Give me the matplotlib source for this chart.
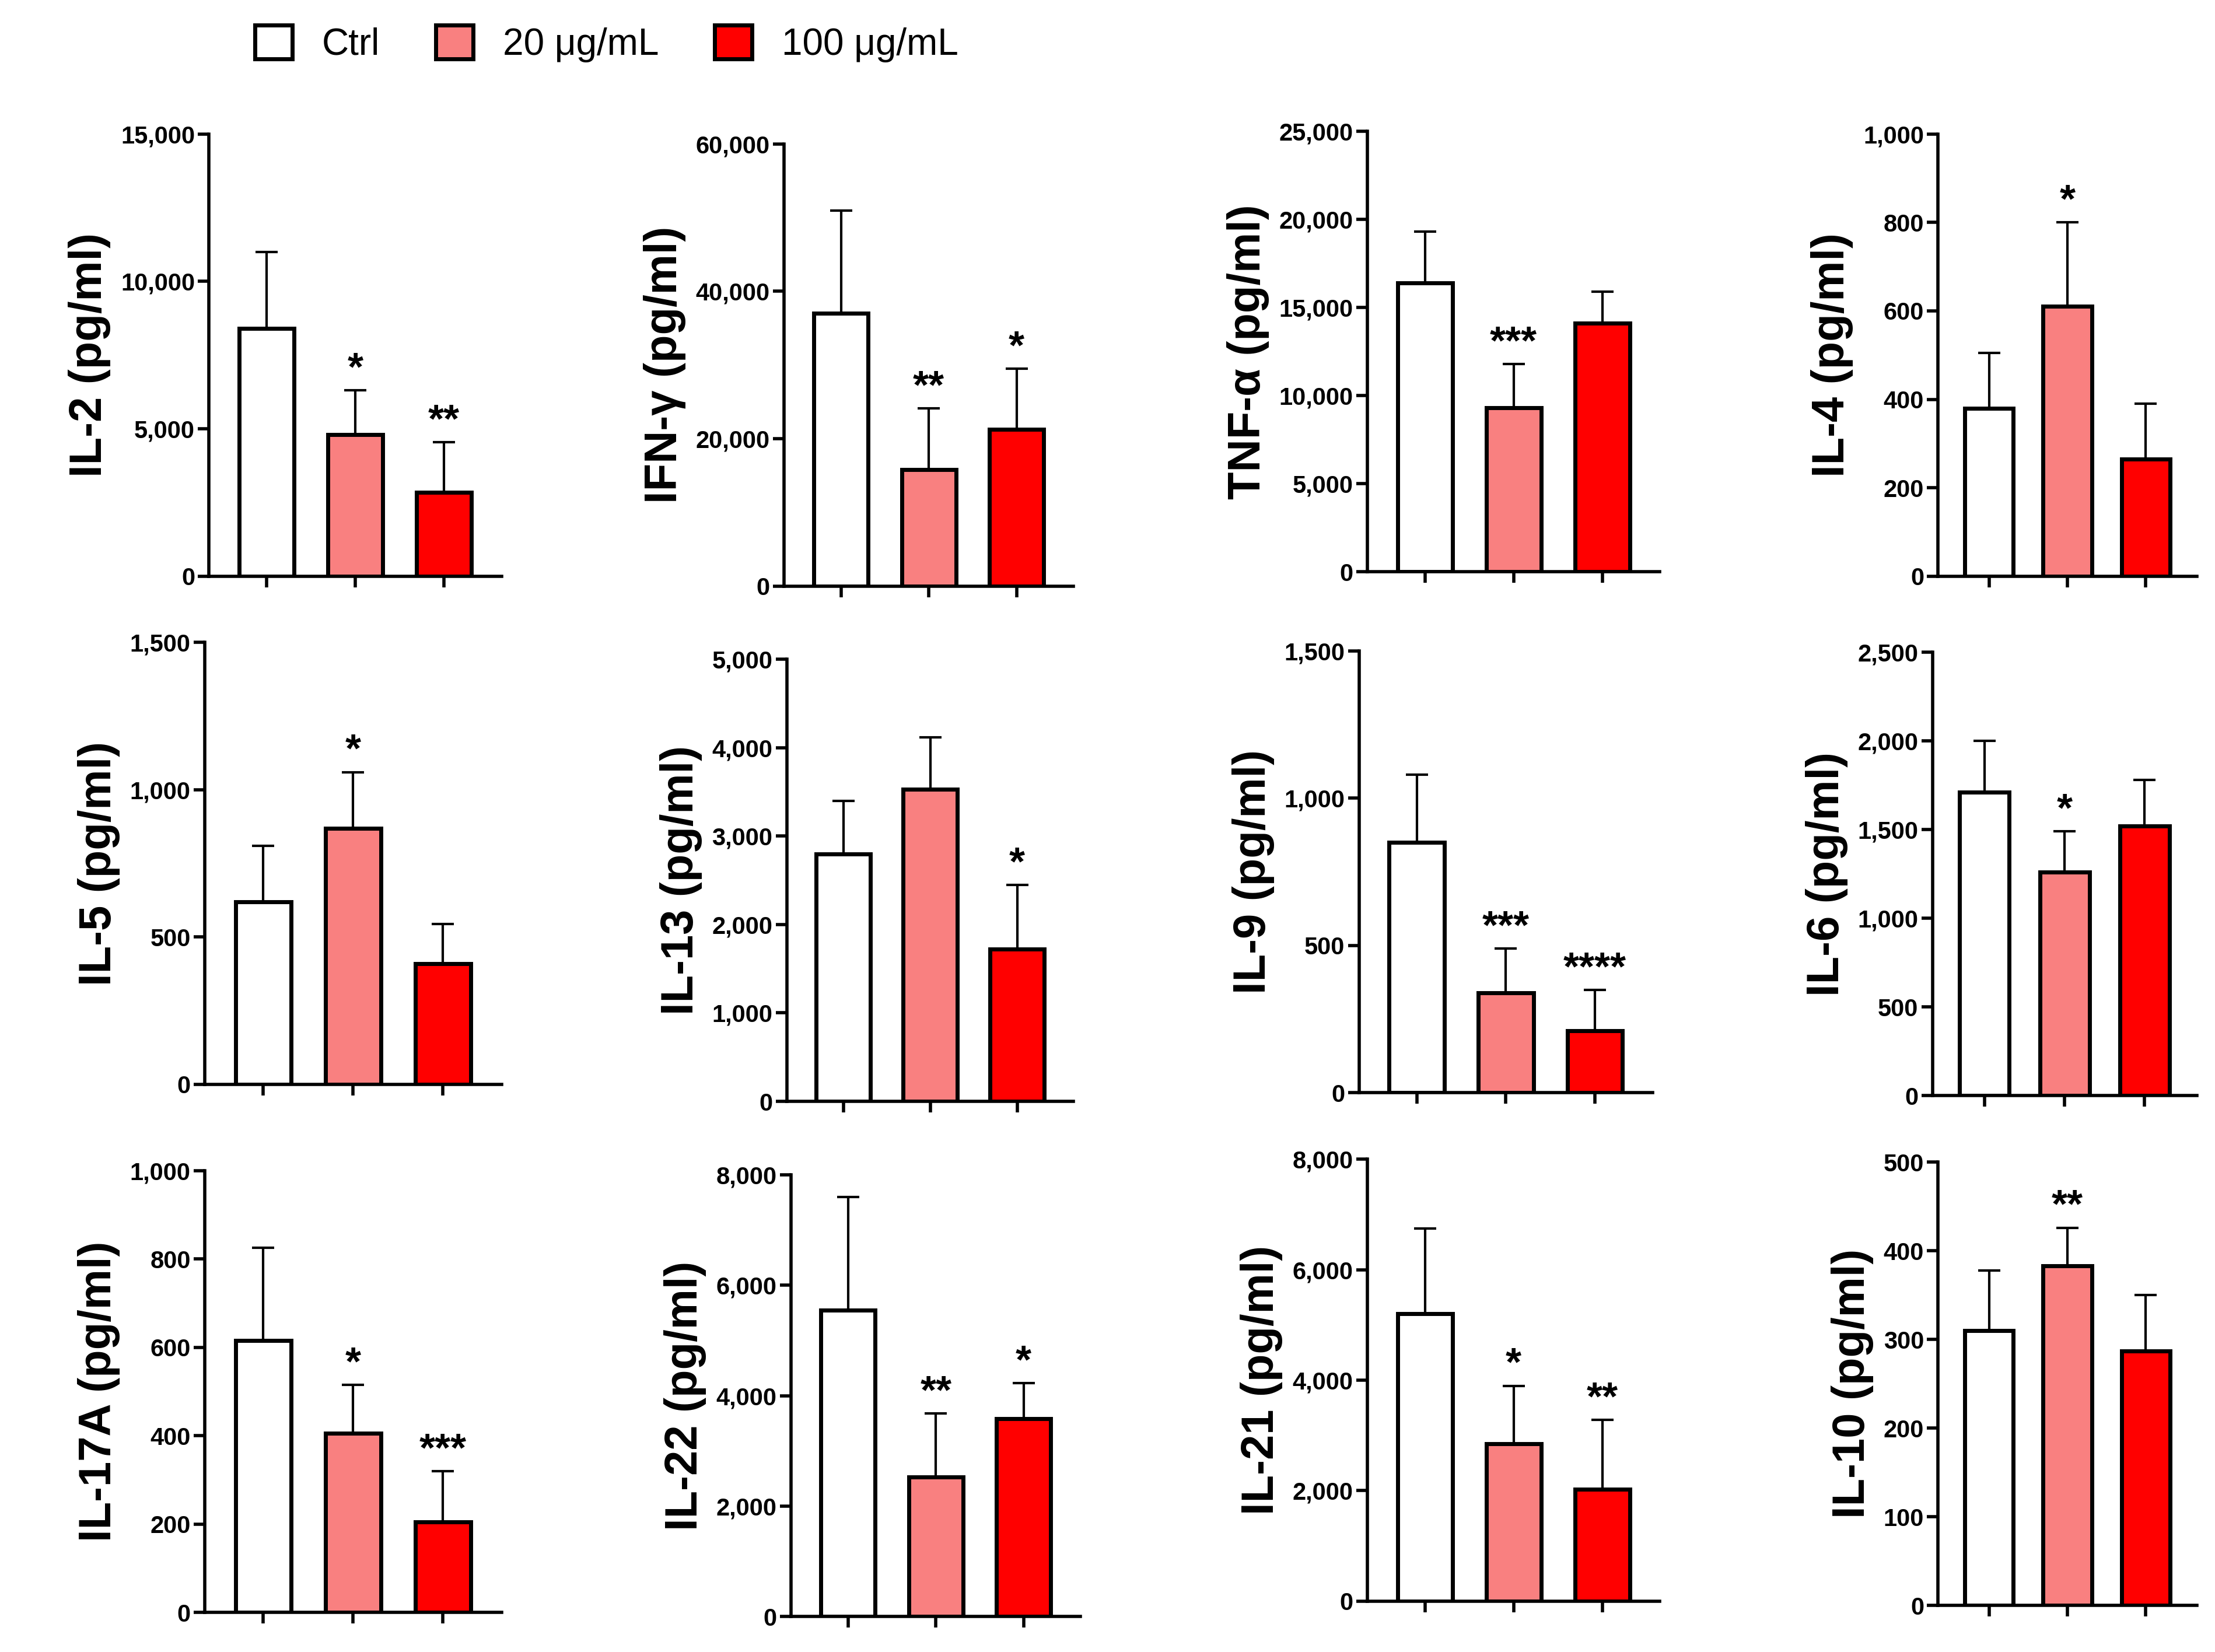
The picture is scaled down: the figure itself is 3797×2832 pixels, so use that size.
import matplotlib
matplotlib.use("Agg")
import matplotlib.pyplot as plt
from matplotlib.patches import Patch
from matplotlib.ticker import FuncFormatter

plt.rcParams["font.family"] = "Liberation Sans"

names = ["IL-2", "IFN-\u03b3", "TNF-\u03b1", "IL-4", "IL-5", "IL-13", "IL-9", "IL-6",
         "IL-17A", "IL-22", "IL-21", "IL-10"]
means = [[8400, 4800, 2850], [37000, 15800, 21300], [16400, 9300, 14100], [380, 610, 265],
         [620, 870, 410], [2800, 3530, 1720], [850, 340, 210], [1710, 1260, 1520],
         [615, 405, 205], [5550, 2530, 3580], [5200, 2850, 2030], [310, 383, 287]]
errs = [[2600, 1500, 1700], [14000, 8300, 8200], [2900, 2500, 1800], [125, 190, 125],
        [190, 190, 135], [600, 590, 730], [230, 150, 140], [290, 230, 260],
        [210, 110, 115], [2050, 1150, 650], [1550, 1050, 1250], [68, 43, 63]]
stars = [["", "*", "**"], ["", "**", "*"], ["", "***", ""], ["", "*", ""],
         ["", "*", ""], ["", "", "*"], ["", "***", "****"], ["", "*", ""],
         ["", "*", "***"], ["", "**", "*"], ["", "*", "**"], ["", "**", ""]]
ymax = [15000, 60000, 25000, 1000, 1500, 5000, 1500, 2500, 1000, 8000, 8000, 500]
ystep = [5000, 20000, 5000, 200, 500, 1000, 500, 500, 200, 2000, 2000, 100]
groups = ["Ctrl", "20 \u03bcg/mL", "100 \u03bcg/mL"]
colors = ["white", "#f98080", "#ff0000"]

W, H = 1568, 1170
boxes = [(148, 355, 95, 408), (555, 760, 102, 415), (968, 1175, 93, 405), (1372, 1555, 95, 408),
         (145, 355, 455, 768), (557, 760, 467, 780), (962, 1170, 461, 774), (1368, 1555, 462, 776),
         (145, 355, 829, 1142), (560, 765, 832, 1145), (968, 1175, 821, 1134), (1372, 1555, 823, 1137)]

fig = plt.figure(figsize=(37.97, 28.32), dpi=100)
for i in range(12):
    x0, x1, y0, y1 = boxes[i]
    ax = fig.add_axes([x0 / W, 1 - y1 / H, (x1 - x0) / W, (y1 - y0) / H])
    xs = [0, 1, 2]
    ax.bar(xs, means[i], width=0.62, color=colors, edgecolor="black", linewidth=5, zorder=2)
    ax.errorbar(xs, means[i], yerr=[[0, 0, 0], errs[i]], fmt="none", ecolor="black",
                elinewidth=3, capsize=14, capthick=3, zorder=1)
    for x, m, e, s in zip(xs, means[i], errs[i], stars[i]):
        if s:
            ax.text(x, m + e + ymax[i] * 0.005, s, ha="center", va="bottom",
                    fontsize=50, fontweight="bold")
    ax.set_xlim(-0.65, 2.65)
    ax.set_ylim(0, ymax[i])
    ax.set_yticks(range(0, ymax[i] + 1, ystep[i]))
    ax.yaxis.set_major_formatter(FuncFormatter(lambda v, p: f"{int(v):,}"))
    ax.set_xticks(xs)
    ax.set_xticklabels([])
    for sp in ["top", "right"]:
        ax.spines[sp].set_visible(False)
    for sp in ["left", "bottom"]:
        ax.spines[sp].set_linewidth(4)
    ax.tick_params(width=4, length=14, labelsize=30)
    for t in ax.get_yticklabels():
        t.set_fontweight("bold")
    ax.set_ylabel(f"{names[i]} (pg/ml)", fontsize=56, fontweight="bold", labelpad=12)

handles = [Patch(facecolor=c, edgecolor="black", linewidth=5) for c in colors]
fig.legend(handles, groups, loc="upper left", bbox_to_anchor=(0.1, 1.005), ncol=3,
           frameon=False, fontsize=46, handlelength=1.0, handleheight=1.0, columnspacing=1.5)
fig.savefig("out.png", dpi=100)
